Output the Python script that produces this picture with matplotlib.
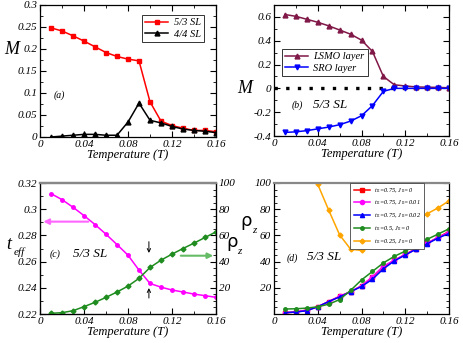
import matplotlib
matplotlib.use("Agg")
import matplotlib.pyplot as plt
from matplotlib.ticker import MultipleLocator, FixedLocator, FuncFormatter

plt.rcParams['font.family'] = ['Liberation Serif', 'DejaVu Serif']
plt.rcParams['font.style'] = 'italic'
plt.rcParams['mathtext.fontset'] = 'custom'
plt.rcParams['mathtext.rm'] = 'Liberation Serif'
plt.rcParams['mathtext.it'] = 'Liberation Serif:italic'
plt.rcParams['xtick.direction'] = 'in'
plt.rcParams['ytick.direction'] = 'in'

T = [0.01, 0.02, 0.03, 0.04, 0.05, 0.06, 0.07, 0.08, 0.09, 0.10, 0.11, 0.12, 0.13, 0.14, 0.15, 0.16]

# (a)
M_53 = [0.248, 0.241, 0.230, 0.218, 0.205, 0.192, 0.183, 0.177, 0.173, 0.080, 0.036, 0.026, 0.020, 0.015, 0.015, 0.012]
M_44 = [0.000, 0.002, 0.004, 0.006, 0.006, 0.004, 0.004, 0.034, 0.077, 0.038, 0.032, 0.024, 0.018, 0.015, 0.013, 0.010]
# (b)
M_lsmo = [0.620, 0.605, 0.580, 0.555, 0.525, 0.490, 0.455, 0.405, 0.310, 0.100, 0.030, 0.020, 0.012, 0.010, 0.008, 0.005]
M_sro = [-0.370, -0.365, -0.355, -0.340, -0.325, -0.305, -0.275, -0.230, -0.145, -0.025, 0.0, 0.0, 0.0, 0.0, 0.0, 0.0]
# (c)
t_eff = [0.3119, 0.3073, 0.3015, 0.2951, 0.2883, 0.2809, 0.2730, 0.2649, 0.2535, 0.2433, 0.2405, 0.2383, 0.2368, 0.2352, 0.2340, 0.2327]
rho_c = [0.5, 1.0, 2.5, 5.6, 8.9, 12.7, 16.8, 21.3, 27.2, 35.5, 41.1, 45.7, 50.0, 54.1, 58.4, 62.7]
# (d)
rho_075_0 = [1.0, 1.5, 3.0, 5.5, 9.5, 13.5, 17.0, 21.5, 28.0, 36.0, 41.0, 45.5, 50.0, 54.0, 58.5, 63.0]
rho_075_001 = [1.0, 1.5, 3.0, 5.5, 9.5, 13.5, 17.0, 21.5, 28.5, 36.5, 41.0, 45.5, 49.5, 54.0, 58.5, 62.5]
rho_075_002 = [1.0, 1.5, 2.5, 5.5, 9.5, 13.0, 17.0, 21.0, 26.5, 34.5, 40.5, 45.0, 49.5, 53.5, 58.0, 61.5]
rho_05_0 = [3.8, 4.0, 4.5, 5.5, 7.5, 11.0, 18.0, 26.0, 32.5, 39.0, 44.0, 48.0, 52.5, 57.0, 61.0, 65.0]
T_025 = [0.03, 0.04, 0.05, 0.06, 0.07, 0.08, 0.09, 0.10, 0.11, 0.12, 0.13, 0.14, 0.15, 0.16]
rho_025_0 = [125.0, 99.0, 79.3, 60.4, 49.5, 48.5, 52.8, 56.5, 61.0, 66.0, 71.0, 76.5, 81.0, 86.4]

xticks = [0, 0.04, 0.08, 0.12, 0.16]
fmt = FuncFormatter(lambda v, p: ('%g' % round(v, 4)))

fig = plt.figure(figsize=(4.63, 3.43), dpi=100)
W, H = 463.0, 343.0
def add(l, r, t, b):
    return fig.add_axes([l / W, 1 - b / H, (r - l) / W, (b - t) / H])

axa = add(40, 216, 5, 137)
axb = add(274, 449, 5, 136)
axc = add(40, 216, 183, 314)
axd = add(274, 449, 183, 314)

TS = 8
LS = 9

def style(ax, ylim, yt, ymin=None):
    ax.set_xlim(0, 0.16)
    ax.set_ylim(*ylim)
    ax.xaxis.set_major_locator(FixedLocator(xticks))
    ax.xaxis.set_minor_locator(MultipleLocator(0.02))
    ax.yaxis.set_major_locator(FixedLocator(yt))
    if ymin:
        ax.yaxis.set_minor_locator(MultipleLocator(ymin))
    ax.xaxis.set_major_formatter(fmt)
    ax.yaxis.set_major_formatter(fmt)
    ax.tick_params(which='major', length=4, width=0.8, labelsize=TS, pad=2)
    ax.tick_params(which='minor', length=2, width=0.6)
    ax.set_xlabel('Temperature (T)', fontsize=LS, labelpad=0)
    for s in ax.spines.values():
        s.set_linewidth(0.9)

def rho_label(ax, x, y):
    ax.text(x, y, 'ρ', transform=ax.transAxes, fontsize=13, family='DejaVu Sans',
            style='normal', ha='center', va='center', clip_on=False)
    ax.text(x + 0.045, y - 0.07, 'z', transform=ax.transAxes, fontsize=8,
            ha='center', va='center', clip_on=False)

# (a)
axa.plot(T, M_53, color='red', marker='s', ms=3.5, lw=1.1, label='5/3 SL')
axa.plot(T, M_44, color='black', marker='^', ms=3.5, lw=1.1, label='4/4 SL')
style(axa, (0, 0.3), [0, 0.05, 0.1, 0.15, 0.2, 0.25, 0.3], 0.025)
axa.tick_params(right=True, top=True, which='both')
axa.text(-0.16, 0.66, 'M', transform=axa.transAxes, fontsize=13, ha='center', va='center')
axa.text(0.012, 0.089, '(a)', fontsize=7)
leg = axa.legend(loc='upper right', bbox_to_anchor=(0.93, 0.924), borderaxespad=0, fontsize=7.5,
                 frameon=True, fancybox=False, edgecolor='black', handlelength=2.2, borderpad=0.3,
                 labelspacing=0.2, handletextpad=0.5)
leg.get_frame().set_linewidth(0.7)

# (b)
axb.plot(T, M_lsmo, color='#801848', marker='^', ms=3.5, lw=1.1, label='LSMO layer')
axb.plot(T, M_sro, color='#0000ff', marker='v', ms=3.5, lw=1.1, label='SRO layer')
axb.axhline(0, color='black', lw=2.4, linestyle=(0, (1, 2.5)), dash_capstyle='butt', zorder=0)
style(axb, (-0.4, 0.7), [-0.4, -0.2, 0, 0.2, 0.4, 0.6], 0.1)
axb.tick_params(right=True, top=True, which='both')
axb.text(-0.17, 0.36, 'M', transform=axb.transAxes, fontsize=13, ha='center', va='center')
axb.text(0.0165, -0.165, '(b)', fontsize=7)
axb.text(0.0355, -0.165, '5/3 SL', fontsize=9.5)
leg = axb.legend(loc='upper left', bbox_to_anchor=(0.046, 0.664), borderaxespad=0, fontsize=7.5,
                 frameon=True, fancybox=False, edgecolor='black', handlelength=2.2, borderpad=0.3,
                 labelspacing=0.2, handletextpad=0.5)
leg.get_frame().set_linewidth(0.7)

# (c)
axc.plot(T, t_eff, color='#ff00ff', marker='o', ms=2.5, lw=1.1)
style(axc, (0.22, 0.32), [0.22, 0.24, 0.26, 0.28, 0.30, 0.32], 0.01)
axc.tick_params(top=False, which='both')
axc.spines['top'].set_color('#888888')
axc.spines['top'].set_linewidth(1.6)
axc.text(-0.175, 0.53, 't', transform=axc.transAxes, fontsize=13, ha='center', va='center')
axc.text(-0.12, 0.47, 'eff', transform=axc.transAxes, fontsize=8, ha='center', va='center')
axc.text(0.009, 0.2637, '(c)', fontsize=7)
axc.text(0.030, 0.2637, '5/3 SL', fontsize=9.5)
axc.annotate('', xy=(0.003, 0.2905), xytext=(0.044, 0.2905),
             arrowprops=dict(arrowstyle='-|>', color='#ff66ff', lw=1.5, mutation_scale=8,
                             shrinkA=0, shrinkB=0))
axc.annotate('', xy=(0.099, 0.2666), xytext=(0.099, 0.2752),
             arrowprops=dict(arrowstyle='->', color='black', lw=0.7, mutation_scale=6,
                             shrinkA=0, shrinkB=0))
axc.annotate('', xy=(0.099, 0.2398), xytext=(0.099, 0.2322),
             arrowprops=dict(arrowstyle='->', color='black', lw=0.7, mutation_scale=6,
                             shrinkA=0, shrinkB=0))
axc2 = axc.twinx()
axc2.plot(T, rho_c, color='#1f8c1f', marker='D', ms=2.5, lw=1.1)
axc2.set_ylim(0, 100)
axc2.yaxis.set_major_locator(FixedLocator([20, 40, 60, 80, 100]))
axc2.yaxis.set_minor_locator(MultipleLocator(5))
axc2.tick_params(which='major', length=4, width=0.8, labelsize=TS, pad=2, direction='in')
axc2.tick_params(which='minor', length=2, width=0.6, direction='in')
axc2.spines['top'].set_color('#888888')
axc2.spines['top'].set_linewidth(1.6)
rho_label(axc2, 1.09, 0.55)
axc2.annotate('', xy=(0.1575, 44.5), xytext=(0.128, 44.5),
              arrowprops=dict(arrowstyle='-|>', color='#66bb66', lw=1.5, mutation_scale=8,
                              shrinkA=0, shrinkB=0))

# (d)
axd.plot(T, rho_075_0, color='red', marker='s', ms=3, lw=1.1, label=r'$t_\perp$=0.75, $J_\perp$=0')
axd.plot(T, rho_075_001, color='#ff00ff', marker='o', ms=3, lw=1.1, label=r'$t_\perp$=0.75, $J_\perp$=0.01')
axd.plot(T, rho_075_002, color='blue', marker='^', ms=3, lw=1.1, label=r'$t_\perp$=0.75, $J_\perp$=0.02')
axd.plot(T, rho_05_0, color='#1f8c1f', marker='o', ms=2.5, lw=1.1, label=r'$t_\perp$=0.5, $J_\perp$=0')
axd.plot(T_025, rho_025_0, color='orange', marker='D', ms=2.5, lw=1.1, label=r'$t_\perp$=0.25, $J_\perp$=0')
style(axd, (0, 100), [20, 40, 60, 80, 100], 5)
axd.tick_params(right=True, which='both')
axd.tick_params(top=False, which='both')
axd.spines['top'].set_color('#888888')
axd.spines['top'].set_linewidth(1.6)
rho_label(axd, -0.16, 0.71)
axd.text(0.012, 41, '(d)', fontsize=7)
axd.text(0.030, 41, '5/3 SL', fontsize=9.5)
leg = axd.legend(loc='upper left', bbox_to_anchor=(0.434, 1.0), borderaxespad=0, fontsize=4.5,
                 frameon=True, fancybox=False, edgecolor='#444444', framealpha=1, handlelength=2.6,
                 borderpad=0.6, labelspacing=0.75, handletextpad=0.6)
leg.get_frame().set_linewidth(0.6)

fig.savefig('out.png', dpi=100)
